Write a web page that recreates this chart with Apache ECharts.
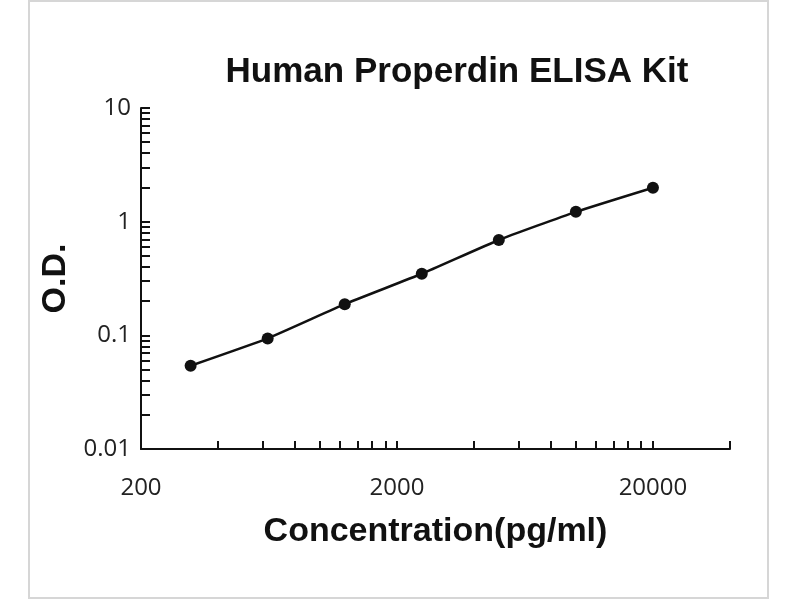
<!DOCTYPE html>
<html>
<head>
<meta charset="utf-8">
<script src="https://cdn.jsdelivr.net/npm/echarts@6/dist/echarts.min.js"></script>
<style>
  html, body { margin: 0; padding: 0; background: #fff; }
  #chart { width: 800px; height: 600px; }
</style>
</head>
<body>
<div id="chart"></div>
<script>
// standard curve data
const concentrations = [312.5, 625, 1250, 2500, 5000, 10000, 20000];
const odValues = [0.054, 0.094, 0.188, 0.348, 0.69, 1.22, 1.99];

// axis labels and tick marks
const xLabels = [200, 2000, 20000];
const xTicks = [400, 600, 800, 1000, 1200, 1400, 1600, 1800, 2000,
  4000, 6000, 8000, 10000, 12000, 14000, 16000, 18000, 20000, 40000];
const yLabels = [0.01, 0.1, 1, 10];
const yTicks = [0.02, 0.03, 0.04, 0.05, 0.06, 0.07, 0.08, 0.09, 0.1,
  0.2, 0.3, 0.4, 0.5, 0.6, 0.7, 0.8, 0.9, 1,
  2, 3, 4, 5, 6, 7, 8, 9, 10];

const chart = echarts.init(document.getElementById('chart'));

const labelFont = { fontFamily: 'Open Sans', fontSize: 24, color: '#222' };
const nameFont = { fontFamily: 'Liberation Sans', fontWeight: 'bold', fontSize: 34, color: '#111' };

const option = {
  backgroundColor: '#fff',
  animation: false,
  title: {
    text: 'Human Properdin ELISA Kit',
    left: 452,
    top: 50,
    textAlign: 'center',
    textStyle: { fontFamily: 'Liberation Sans', fontWeight: 'bold', fontSize: 35, color: '#111' }
  },
  graphic: [{
    type: 'rect',
    shape: { x: 29, y: 1, width: 739, height: 597 },
    style: { fill: 'none', stroke: '#d6d6d6', lineWidth: 2 },
    silent: true
  }],
  grid: { left: 141, right: 70, top: 108, bottom: 151, containLabel: false },
  xAxis: {
    type: 'log',
    logBase: 10,
    min: 200,
    max: 40000,
    name: 'Concentration(pg/ml)',
    nameLocation: 'middle',
    nameGap: 66,
    nameTextStyle: nameFont,
    axisLine: { lineStyle: { color: '#111', width: 2 } },
    axisTick: { inside: true, length: 8, customValues: xTicks, lineStyle: { color: '#111', width: 2 } },
    axisLabel: Object.assign({ customValues: xLabels, margin: 27, formatter: v => String(v) }, labelFont),
    splitLine: { show: false },
    minorTick: { show: false }
  },
  yAxis: {
    type: 'log',
    logBase: 10,
    min: 0.01,
    max: 10,
    name: 'O.D.',
    nameLocation: 'middle',
    nameRotate: 90,
    nameGap: 66,
    nameTextStyle: nameFont,
    axisLine: { show: true, lineStyle: { color: '#111', width: 2 } },
    axisTick: { show: true, inside: true, length: 9, customValues: yTicks, lineStyle: { color: '#111', width: 2 } },
    axisLabel: Object.assign({ customValues: yLabels, margin: 10, formatter: v => String(v) }, labelFont),
    splitLine: { show: false }
  },
  series: [{
    type: 'line',
    data: concentrations.map((c, i) => [c, odValues[i]]),
    smooth: 0.15,
    symbol: 'circle',
    symbolSize: 12,
    itemStyle: { color: '#111' },
    lineStyle: { color: '#111', width: 2.5 }
  }]
};

chart.setOption(option);
</script>
</body>
</html>
